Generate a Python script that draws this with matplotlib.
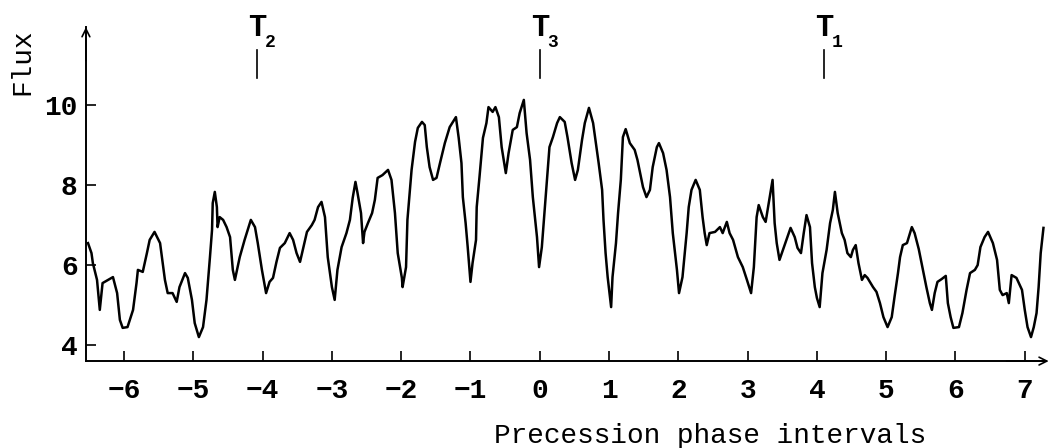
"""Flux vs precession phase intervals"""
import matplotlib
matplotlib.use('Agg')
import matplotlib.pyplot as plt

plt.rcParams['font.family'] = ['Liberation Mono', 'DejaVu Sans Mono']

# phase (precession intervals) and flux
phase = [
    -6.52, -6.47, -6.45, -6.39, -6.35, -6.31, -6.23, -6.16, -6.10, -6.06,
    -6.02, -5.95, -5.87, -5.82, -5.80, -5.73, -5.67, -5.63, -5.56, -5.48,
    -5.41, -5.37, -5.30, -5.24, -5.20, -5.12, -5.08, -5.02, -4.98, -4.92,
    -4.86, -4.81, -4.76, -4.73, -4.72, -4.69, -4.66, -4.65, -4.62, -4.57,
    -4.52, -4.47, -4.43, -4.40, -4.33, -4.26, -4.17, -4.11, -4.07, -4.01,
    -3.95, -3.90, -3.85, -3.80, -3.75, -3.68, -3.61, -3.56, -3.51, -3.46,
    -3.42, -3.36, -3.29, -3.25, -3.20, -3.15, -3.10, -3.06, -3.00, -2.96,
    -2.92, -2.86, -2.79, -2.74, -2.70, -2.66, -2.63, -2.58, -2.55, -2.53,
    -2.48, -2.42, -2.38, -2.34, -2.27, -2.19, -2.14, -2.09, -2.05, -1.99,
    -1.98, -1.93, -1.91, -1.85, -1.80, -1.76, -1.70, -1.66, -1.63, -1.59,
    -1.54, -1.49, -1.44, -1.37, -1.30, -1.21, -1.17, -1.13, -1.11, -1.07,
    -1.04, -1.00, -0.97, -0.92, -0.91, -0.87, -0.82, -0.77, -0.74, -0.68,
    -0.64, -0.59, -0.55, -0.49, -0.45, -0.39, -0.33, -0.29, -0.23, -0.19,
    -0.14, -0.10, -0.04, -0.01, 0.03, 0.09, 0.14, 0.19, 0.25, 0.29,
    0.36, 0.40, 0.46, 0.51, 0.55, 0.61, 0.65, 0.71, 0.77, 0.81,
    0.85, 0.90, 0.92, 0.95, 0.98, 1.03, 1.05, 1.10, 1.13, 1.17,
    1.20, 1.24, 1.30, 1.37, 1.41, 1.49, 1.54, 1.59, 1.63, 1.69,
    1.72, 1.78, 1.83, 1.88, 1.92, 1.98, 2.01, 2.06, 2.12, 2.15,
    2.19, 2.25, 2.31, 2.35, 2.38, 2.41, 2.45, 2.53, 2.60, 2.64,
    2.70, 2.74, 2.79, 2.86, 2.93, 2.99, 3.05, 3.09, 3.13, 3.16,
    3.22, 3.26, 3.32, 3.36, 3.39, 3.42, 3.46, 3.51, 3.56, 3.62,
    3.68, 3.72, 3.77, 3.81, 3.85, 3.90, 3.93, 3.97, 4.00, 4.04,
    4.08, 4.14, 4.19, 4.23, 4.26, 4.30, 4.36, 4.40, 4.44, 4.49,
    4.52, 4.56, 4.60, 4.65, 4.69, 4.73, 4.81, 4.86, 4.91, 4.96,
    5.02, 5.08, 5.12, 5.17, 5.20, 5.24, 5.30, 5.37, 5.41, 5.47,
    5.53, 5.58, 5.63, 5.66, 5.70, 5.74, 5.80, 5.86, 5.89, 5.93,
    5.97, 6.05, 6.10, 6.16, 6.21, 6.28, 6.32, 6.36, 6.42, 6.47,
    6.54, 6.60, 6.64, 6.68, 6.74, 6.77, 6.81, 6.88, 6.96, 7.00,
    7.04, 7.09, 7.13, 7.17, 7.20, 7.23, 7.27,
]
flux = [
    6.55, 6.30, 6.05, 5.63, 4.88, 5.55, 5.63, 5.70, 5.30, 4.63,
    4.43, 4.45, 4.88, 5.55, 5.88, 5.83, 6.30, 6.63, 6.83, 6.55,
    5.63, 5.30, 5.30, 5.08, 5.45, 5.80, 5.68, 5.13, 4.55, 4.20,
    4.45, 5.13, 6.20, 6.88, 7.55, 7.83, 7.45, 6.95, 7.20, 7.13,
    6.95, 6.70, 5.88, 5.63, 6.20, 6.63, 7.13, 6.95, 6.55, 5.88,
    5.30, 5.58, 5.68, 6.08, 6.43, 6.55, 6.80, 6.63, 6.30, 6.08,
    6.38, 6.83, 7.00, 7.13, 7.45, 7.58, 7.20, 6.20, 5.45, 5.13,
    5.88, 6.45, 6.80, 7.13, 7.68, 8.08, 7.80, 7.30, 6.55, 6.83,
    7.05, 7.30, 7.63, 8.18, 8.25, 8.38, 8.13, 7.30, 6.30, 5.68,
    5.45, 5.95, 7.13, 8.38, 9.08, 9.43, 9.58, 9.50, 8.95, 8.45,
    8.13, 8.18, 8.55, 9.05, 9.45, 9.70, 9.18, 8.55, 7.70, 7.05,
    6.45, 5.58, 6.05, 6.63, 7.45, 8.20, 9.18, 9.55, 9.95, 9.83,
    9.95, 9.70, 8.95, 8.30, 8.80, 9.38, 9.45, 9.80, 10.13, 9.30,
    8.63, 7.70, 6.70, 5.95, 6.45, 7.80, 8.95, 9.20, 9.55, 9.70,
    9.58, 9.20, 8.55, 8.13, 8.38, 9.13, 9.55, 9.93, 9.55, 9.05,
    8.55, 7.88, 7.13, 6.30, 5.70, 4.95, 5.70, 6.55, 7.30, 8.13,
    9.20, 9.40, 9.05, 8.88, 8.63, 7.95, 7.70, 7.88, 8.45, 8.95,
    9.05, 8.80, 8.38, 7.70, 6.80, 5.88, 5.30, 5.70, 6.80, 7.45,
    7.88, 8.13, 7.88, 7.20, 6.80, 6.50, 6.80, 6.83, 6.95, 6.80,
    7.08, 6.80, 6.63, 6.20, 5.95, 5.63, 5.30, 5.95, 7.20, 7.50,
    7.20, 7.08, 7.70, 8.13, 7.05, 6.55, 6.13, 6.38, 6.63, 6.93,
    6.70, 6.43, 6.30, 6.80, 7.25, 6.95, 6.05, 5.45, 5.18, 4.95,
    5.80, 6.38, 7.05, 7.38, 7.83, 7.30, 6.80, 6.63, 6.30, 6.20,
    6.38, 6.50, 6.05, 5.63, 5.75, 5.68, 5.45, 5.33, 5.05, 4.70,
    4.45, 4.70, 5.20, 5.80, 6.20, 6.50, 6.55, 6.95, 6.80, 6.40,
    5.88, 5.45, 5.05, 4.88, 5.30, 5.58, 5.65, 5.73, 5.05, 4.70,
    4.43, 4.45, 4.80, 5.38, 5.80, 5.88, 6.00, 6.45, 6.70, 6.83,
    6.55, 6.13, 5.38, 5.25, 5.30, 5.05, 5.75, 5.68, 5.38, 4.88,
    4.45, 4.20, 4.45, 4.80, 5.45, 6.30, 6.93,
]

x_ticks = list(range(-6, 8))
y_ticks = [4, 6, 8, 10]

# time markers above the curve
marker_pos = [4.1, -4.08, 0.0]
marker_sub = ['1', '2', '3']

fig = plt.figure(figsize=(10.48, 4.48), dpi=100)
ax = fig.add_axes([0.082, 0.194, 0.915, 0.7455])

ax.plot(phase, flux, color='black', linewidth=1.8)

ax.set_xlim(-6.55, 7.29)
ax.set_ylim(3.6, 11.95)

for s in ['top', 'right']:
    ax.spines[s].set_visible(False)
for s in ['left', 'bottom']:
    ax.spines[s].set_linewidth(1.4)

ax.set_xticks(x_ticks)
ax.set_yticks(y_ticks)
ax.set_xticklabels([str(t).replace('-', '\u2212') for t in x_ticks])
ax.tick_params(direction='in', length=7, width=1.2, labelsize=20, pad=12)
ax.tick_params(axis='y', pad=6)
for lab in ax.get_xticklabels() + ax.get_yticklabels():
    lab.set_fontweight('bold')

# axis arrows
ax.annotate('', xy=(0, 1.0), xycoords='axes fraction', xytext=(0, 0.9),
            arrowprops=dict(arrowstyle='->', lw=1.2, color='black',
                            shrinkA=0, shrinkB=0, mutation_scale=14))
ax.annotate('', xy=(1.004, 0), xycoords='axes fraction', xytext=(0.96, 0),
            arrowprops=dict(arrowstyle='->', lw=1.2, color='black',
                            shrinkA=0, shrinkB=0, mutation_scale=14),
            annotation_clip=False)

ax.text(0.651, -0.2455, 'Precession phase intervals', transform=ax.transAxes,
        ha='center', va='baseline', fontsize=20)
ax.text(-0.066, 0.895, 'Flux', transform=ax.transAxes, rotation=90,
        ha='center', va='center', fontsize=20)

for xp, sub in zip(marker_pos, marker_sub):
    ax.plot([xp, xp], [10.675, 11.375], color='black', linewidth=1.2,
            clip_on=False)
    ax.text(xp, 11.92, 'T', ha='center', va='center', fontsize=22,
            fontweight='bold', clip_on=False)
    ax.text(xp + 0.19, 11.57, sub, ha='center', va='center', fontsize=13,
            fontweight='bold', clip_on=False)

fig.savefig('out.png', dpi=100)
